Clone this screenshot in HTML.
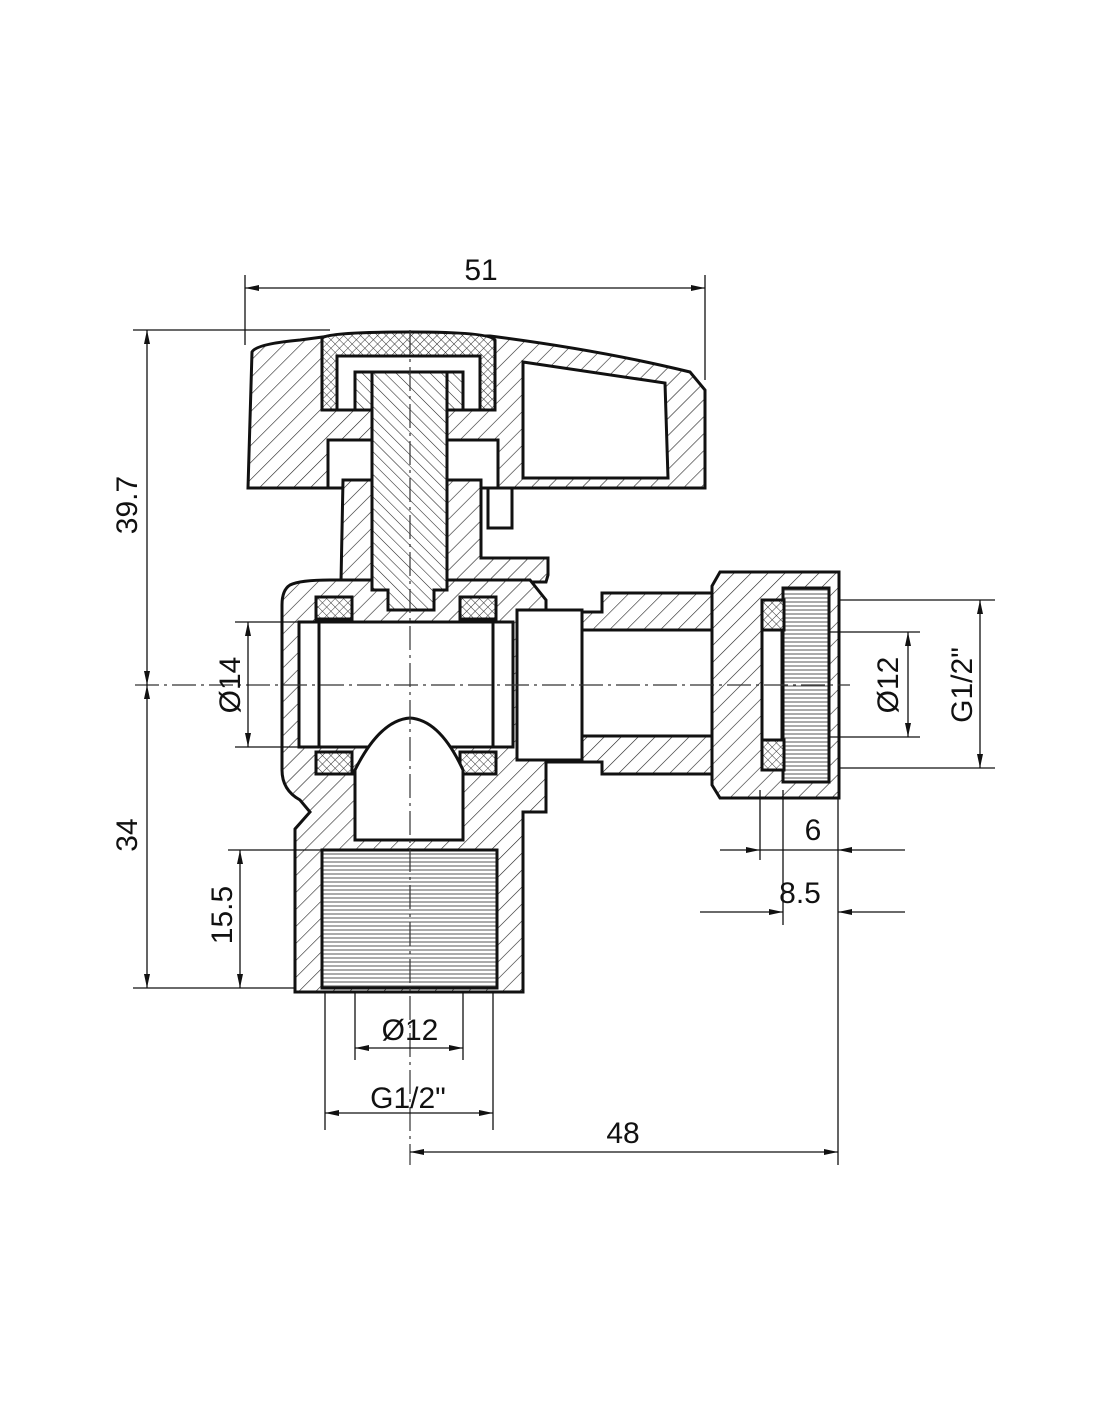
<!DOCTYPE html>
<html><head><meta charset="utf-8"><style>
html,body{margin:0;padding:0;background:#fff}
svg{display:block}
text{font-family:"Liberation Sans",sans-serif;font-size:30px;fill:#111}
</style></head><body>
<svg width="1100" height="1422" viewBox="0 0 1100 1422" xmlns="http://www.w3.org/2000/svg">
<defs>
<pattern id="h" width="12" height="12" patternUnits="userSpaceOnUse" patternTransform="rotate(45)">
<rect width="12" height="12" fill="#fff"/><line x1="0" y1="0" x2="0" y2="12" stroke="#222" stroke-width="1.2"/></pattern>
<pattern id="h2" width="8" height="8" patternUnits="userSpaceOnUse" patternTransform="rotate(-45)">
<rect width="8" height="8" fill="#fff"/><line x1="0" y1="0" x2="0" y2="8" stroke="#222" stroke-width="1.1"/></pattern>
<pattern id="x" width="6" height="6" patternUnits="userSpaceOnUse" patternTransform="rotate(45)">
<rect width="6" height="6" fill="#fff"/><path d="M0 0V6M0 0H6" stroke="#333" stroke-width="1"/></pattern>
<pattern id="t" width="10" height="4" patternUnits="userSpaceOnUse">
<rect width="10" height="4" fill="#fff"/><line x1="0" y1="2" x2="10" y2="2" stroke="#555" stroke-width="1"/></pattern>
<marker id="a" markerWidth="14" markerHeight="8" refX="14" refY="4" orient="auto-start-reverse" markerUnits="userSpaceOnUse"><path d="M0 1L14 4L0 7z" fill="#111"/></marker>
</defs>
<g stroke="#111" stroke-width="3" fill="url(#h)">
<!-- handle -->
<path d="M252 352 Q256 344 300 340 L330 336 L490 336 Q600 350 690 372 L705 390 L705 488 L248 488 Z"/>
<path d="M523 362 L665 383 L668 478 L523 478 Z" fill="#fff"/>
<rect x="328" y="440" width="170" height="48" fill="#fff"/>
<rect x="488" y="488" width="24" height="40" fill="#fff"/>
<!-- cap -->
<path d="M322 338 Q330 332 410 332 Q490 332 495 340 L495 410 L322 410 Z" fill="url(#x)"/>
<rect x="337" y="356" width="143" height="54" fill="#fff"/>
<rect x="355" y="372" width="108" height="38" fill="url(#h2)"/>
<!-- bonnet -->
<path d="M343 480 L481 480 L481 558 L548 558 L548 575 L546 582 L341 582 Z"/>
<!-- body -->
<path d="M290 585 Q300 580 330 580 L530 580 L546 600 L546 612 L602 612 L602 593 L712 593 L712 774 L602 774 L602 762 L546 762 L546 812 L523 812 L523 829 L523 992 L295 992 L295 829 L310 812 L300 800 Q282 790 282 770 L282 605 Q282 590 290 585 Z"/>
<!-- inner passage -->
<rect x="299" y="622" width="214" height="125" fill="#fff"/>
<rect x="319" y="622" width="174" height="125" fill="#fff"/>
<rect x="517" y="610" width="65" height="150" fill="#fff"/>
<rect x="582" y="630" width="180" height="106" fill="#fff"/>
<!-- seats -->
<rect x="316" y="597" width="36" height="22" fill="url(#x)"/>
<rect x="460" y="597" width="36" height="22" fill="url(#x)"/>
<rect x="316" y="752" width="36" height="22" fill="url(#x)"/>
<rect x="460" y="752" width="36" height="22" fill="url(#x)"/>
<!-- ball lower -->
<path d="M355 770 Q380 720 410 718 Q440 720 463 770 L463 840 L355 840 Z" fill="#fff"/>
<!-- stem -->
<path d="M372 372 L447 372 L447 590 L434 590 L434 610 L388 610 L388 590 L372 590 Z" fill="url(#h2)"/>
<!-- nut -->
<path d="M720 572 L839 572 L839 798 L720 798 L712 785 L712 586 Z"/>
<rect x="762" y="600" width="20" height="170" fill="#fff"/>
<rect x="783" y="588" width="46" height="194" fill="url(#t)"/>
<rect x="762" y="600" width="22" height="30" fill="url(#x)"/>
<rect x="762" y="740" width="22" height="30" fill="url(#x)"/>
<!-- lower threaded -->
<rect x="322" y="850" width="175" height="138" fill="url(#t)"/>
</g>
<!-- centerlines -->
<g stroke="#333" stroke-width="1.2" stroke-dasharray="24 5 3 5" fill="none">
<line x1="135" y1="685" x2="850" y2="685"/>
<line x1="410" y1="330" x2="410" y2="1165"/>
</g>
<!-- dimension lines -->
<g stroke="#111" stroke-width="1.3" fill="none">
<line x1="245" y1="275" x2="245" y2="345"/><line x1="705" y1="275" x2="705" y2="380"/>
<line x1="245" y1="288" x2="705" y2="288" marker-start="url(#a)" marker-end="url(#a)"/>
<line x1="133" y1="330" x2="330" y2="330"/><line x1="133" y1="988" x2="295" y2="988"/>
<line x1="147" y1="330" x2="147" y2="685" marker-start="url(#a)" marker-end="url(#a)"/>
<line x1="147" y1="685" x2="147" y2="988" marker-start="url(#a)" marker-end="url(#a)"/>
<line x1="228" y1="850" x2="322" y2="850"/>
<line x1="240" y1="850" x2="240" y2="988" marker-start="url(#a)" marker-end="url(#a)"/>
<line x1="235" y1="622" x2="300" y2="622"/><line x1="235" y1="747" x2="300" y2="747"/>
<line x1="248" y1="622" x2="248" y2="747" marker-start="url(#a)" marker-end="url(#a)"/>
<line x1="840" y1="600" x2="995" y2="600"/><line x1="840" y1="768" x2="995" y2="768"/>
<line x1="980" y1="600" x2="980" y2="768" marker-start="url(#a)" marker-end="url(#a)"/>
<line x1="830" y1="632" x2="920" y2="632"/><line x1="830" y1="737" x2="920" y2="737"/>
<line x1="908" y1="632" x2="908" y2="737" marker-start="url(#a)" marker-end="url(#a)"/>
<line x1="760" y1="790" x2="760" y2="860"/><line x1="783" y1="790" x2="783" y2="925"/>
<line x1="838" y1="798" x2="838" y2="1165"/>
<line x1="720" y1="850" x2="760" y2="850" marker-end="url(#a)"/>
<line x1="905" y1="850" x2="838" y2="850" marker-end="url(#a)"/>
<line x1="760" y1="850" x2="838" y2="850"/>
<line x1="700" y1="912" x2="783" y2="912" marker-end="url(#a)"/>
<line x1="905" y1="912" x2="838" y2="912" marker-end="url(#a)"/>
<line x1="355" y1="992" x2="355" y2="1060"/><line x1="463" y1="992" x2="463" y2="1060"/>
<line x1="355" y1="1048" x2="463" y2="1048" marker-start="url(#a)" marker-end="url(#a)"/>
<line x1="325" y1="992" x2="325" y2="1130"/><line x1="493" y1="992" x2="493" y2="1130"/>
<line x1="325" y1="1113" x2="493" y2="1113" marker-start="url(#a)" marker-end="url(#a)"/>
<line x1="410" y1="1152" x2="838" y2="1152" marker-start="url(#a)" marker-end="url(#a)"/>
</g>
<text x="481" y="280" text-anchor="middle">51</text>
<text transform="translate(137,505) rotate(-90)" text-anchor="middle">39.7</text>
<text transform="translate(137,835) rotate(-90)" text-anchor="middle">34</text>
<text transform="translate(232,915) rotate(-90)" text-anchor="middle">15.5</text>
<text transform="translate(240,685) rotate(-90)" text-anchor="middle">Ø14</text>
<text transform="translate(898,685) rotate(-90)" text-anchor="middle">Ø12</text>
<text transform="translate(972,685) rotate(-90)" text-anchor="middle">G1/2"</text>
<text x="813" y="840" text-anchor="middle">6</text>
<text x="800" y="903" text-anchor="middle">8.5</text>
<text x="410" y="1040" text-anchor="middle">Ø12</text>
<text x="408" y="1108" text-anchor="middle">G1/2"</text>
<text x="623" y="1143" text-anchor="middle">48</text>
</svg>
</body></html>
